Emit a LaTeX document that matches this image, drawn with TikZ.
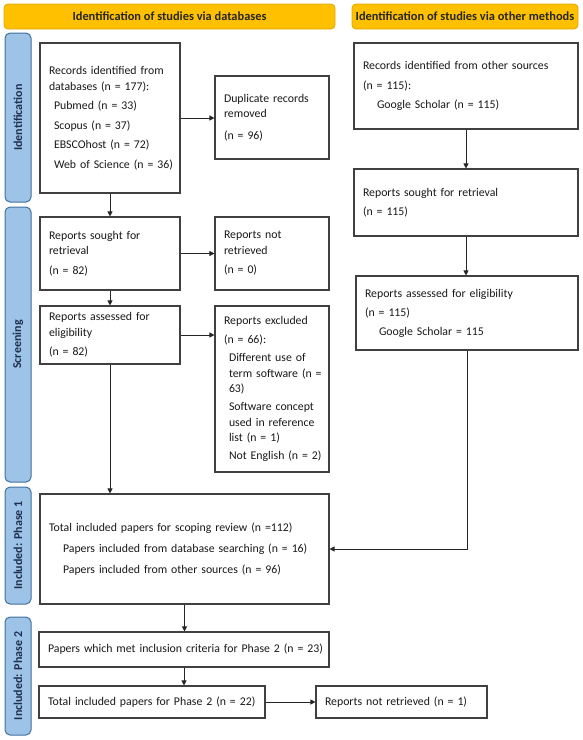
\documentclass[tikz,border=0pt]{standalone}
\usepackage{fontspec}
\setmainfont{Carlito}
\usetikzlibrary{arrows.meta}
\definecolor{hdrfill}{HTML}{FFC000}
\definecolor{hdrline}{HTML}{E0A800}
\definecolor{sidefill}{HTML}{9DC3E6}
\definecolor{sideline}{HTML}{41719C}
\definecolor{sidetext}{HTML}{1F2F4F}
\definecolor{boxline}{HTML}{404040}
\begin{document}
\begin{tikzpicture}[x=1pt,y=-1pt,
  box/.style={draw=boxline, line width=1.1pt, fill=white, align=left, text=black!90,
    inner xsep=9pt, inner ysep=0pt, font=\fontsize{11.8}{15.5}\selectfont, anchor=center},
  hdr/.style={draw=hdrline, fill=hdrfill, rounded corners=4pt, line width=0.8pt,
    font=\bfseries\fontsize{12.4}{14}\selectfont, inner sep=0pt, minimum height=25pt, text=black!85},
  side/.style={draw=sideline, fill=sidefill, rounded corners=5pt, line width=1pt,
    inner sep=0pt, rotate=90, minimum height=26pt,
    font=\bfseries\fontsize{12}{14}\selectfont, text=sidetext},
  arr/.style={-{Triangle[length=5pt,width=5pt]}, line width=0.8pt, draw=black!85}
]
\useasboundingbox (0,0) rectangle (583,740);
% headers
\node[hdr, minimum width=331pt] (h1) at (169.5,16.5) {Identification of studies via databases};
\node[hdr, minimum width=226pt] (h2) at (465,16.5) {Identification of studies via other methods};
% sidebars
\node[side, minimum width=169pt] (s1) at (18,117.5) {Identification};
\node[side, minimum width=275pt] (s2) at (18,344.5) {Screening};
\node[side, minimum width=117pt] (s3) at (18,545.5) {Included: Phase 1};
\node[side, minimum width=118pt] (s4) at (18,676) {Included: Phase 2};
% boxes
\node[box, minimum width=140pt, minimum height=150pt, text width=122pt] (A) at (110,118)
  {\mbox{Records identified from}\\ \mbox{databases (n = 177):}\\[4pt]
   \hspace*{5pt}\mbox{Pubmed (n = 33)}\\[4pt]
   \hspace*{5pt}\mbox{Scopus (n = 37)}\\[4pt]
   \hspace*{5pt}\mbox{EBSCOhost (n = 72)}\\[4pt]
   \hspace*{5pt}\mbox{Web of Science (n = 36)}};
\node[box, minimum width=114pt, minimum height=83pt, text width=96pt] (B) at (272,117.5)
  {\mbox{Duplicate records}\\ removed\\[6pt]\mbox{(n = 96)}};
\node[box, minimum width=224pt, minimum height=86pt, text width=206pt] (C) at (466,86)
  {\mbox{Records identified from other sources}\\[4pt]\mbox{(n = 115):}\\[3.5pt]
   \hspace*{14pt}\mbox{Google Scholar (n = 115)}};
\node[box, minimum width=224pt, minimum height=67pt, text width=206pt] (D) at (466,202.5)
  {\mbox{Reports sought for retrieval}\\[4pt]\mbox{(n = 115)}};
\node[box, minimum width=140pt, minimum height=73pt, text width=122pt] (E) at (110,253.5)
  {\mbox{Reports sought for}\\ retrieval\\[4pt]\mbox{(n = 82)}};
\node[box, minimum width=114pt, minimum height=73pt, text width=96pt] (F) at (272,253.5)
  {\mbox{Reports not}\\ retrieved\\[4pt]\mbox{(n = 0)}};
\node[box, minimum width=140pt, minimum height=58pt, text width=122pt] (G) at (110,335)
  {\mbox{Reports assessed for}\\ eligibility\\[4pt]\mbox{(n = 82)}};
\node[box, minimum width=114pt, minimum height=166pt, text width=96pt] (H) at (272,389)
  {\mbox{Reports excluded}\\[4pt]\mbox{(n = 66):}\\[2.5pt]
   \hspace*{5pt}\mbox{Different use of}\\
   \hspace*{5pt}\mbox{term software (n =}\\
   \hspace*{5pt}63)\\[2.5pt]
   \hspace*{5pt}\mbox{Software concept}\\
   \hspace*{5pt}\mbox{used in reference}\\
   \hspace*{5pt}\mbox{list (n = 1)}\\[2.5pt]
   \hspace*{5pt}\mbox{Not English (n = 2)}};
\node[box, minimum width=222pt, minimum height=74pt, text width=204pt] (I) at (467,313)
  {\mbox{Reports assessed for eligibility}\\[3.5pt]\mbox{(n = 115)}\\[3.5pt]
   \hspace*{14pt}\mbox{Google Scholar = 115}};
\node[box, minimum width=289pt, minimum height=110pt, text width=271pt] (J) at (184.5,549)
  {\mbox{Total included papers for scoping review (n =112)}\\[6pt]
   \hspace*{14pt}\mbox{Papers included from database searching (n = 16)}\\[5pt]
   \hspace*{14pt}\mbox{Papers included from other sources (n = 96)}};
\node[box, minimum width=290pt, minimum height=35pt, text width=272pt] (K) at (184,649.5)
  {\mbox{Papers which met inclusion criteria for Phase 2 (n = 23)}};
\node[box, minimum width=226pt, minimum height=32pt, text width=208pt] (L) at (152,702)
  {\mbox{Total included papers for Phase 2 (n = 22)}};
\node[box, minimum width=171pt, minimum height=32pt, text width=153pt] (M) at (401.5,702)
  {\mbox{Reports not retrieved (n = 1)}};
% connectors
\draw[arr] (A.east) -- (A.east -| B.west);
\draw[arr] (A.south) -- (E.north);
\draw[arr] (E.east) -- (F.west);
\draw[arr] (E.south) -- (G.north);
\draw[arr] (G.east) -- (G.east -| H.west);
\draw[arr] (G.south) -- (G.south |- J.north);
\draw[arr] (C.south) -- (D.north);
\draw[arr] (D.south) -- (D.south |- I.north);
\draw[arr] (I.south) |- (J.east);
\draw[arr] (J.south) -- (J.south |- K.north);
\draw[arr] (K.south) -- (K.south |- L.north);
\draw[arr] (L.east) -- (M.west);
\end{tikzpicture}
\end{document}
